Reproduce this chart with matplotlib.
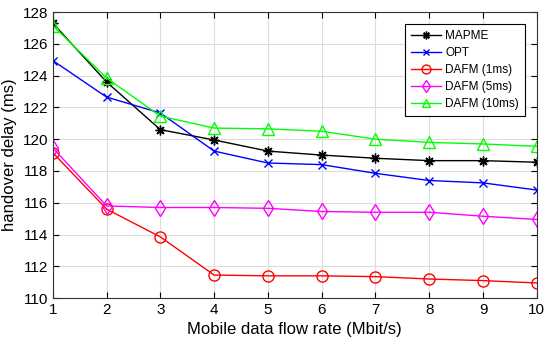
import matplotlib
matplotlib.use('Agg')
import matplotlib.pyplot as plt

plt.rcParams['font.family'] = ['Liberation Sans', 'DejaVu Sans']

rate = [1, 2, 3, 4, 5, 6, 7, 8, 9, 10]
mapme = [127.3, 123.6, 120.6, 119.95, 119.25, 119.0, 118.8, 118.65, 118.65, 118.55]
opt = [124.95, 122.65, 121.65, 119.25, 118.5, 118.4, 117.85, 117.4, 117.25, 116.8]
dafm_1 = [119.15, 115.6, 113.85, 111.45, 111.4, 111.4, 111.35, 111.2, 111.1, 110.95]
dafm_5 = [119.45, 115.8, 115.7, 115.7, 115.65, 115.45, 115.4, 115.4, 115.15, 114.95]
dafm_10 = [127.15, 123.85, 121.45, 120.7, 120.65, 120.5, 120.0, 119.8, 119.7, 119.55]

fig = plt.figure(figsize=(5.5, 3.45), dpi=100)
ax = fig.add_axes([0.096, 0.136, 0.88, 0.829])

# matlab-style asterisk = 8 arms
ax.plot(rate, mapme, color='black', marker=(8, 2, 0), markersize=7, lw=1, label='MAPME')
ax.plot(rate, opt, color='blue', marker='x', markersize=6, lw=1, label='OPT')
ax.plot(rate, dafm_1, color='red', marker='o', markersize=8, mfc='none', lw=1, label='DAFM (1ms)')
ax.plot(rate, dafm_5, color='magenta', marker='d', markersize=8, mfc='none', lw=1, label='DAFM (5ms)')
ax.plot(rate, dafm_10, color='#00ff00', marker='^', markersize=8, mfc='none', lw=1, label='DAFM (10ms)')

ax.set_xlim(1, 10)
ax.set_ylim(110, 128)
ax.set_xticks(range(1, 11))
ax.set_yticks(range(110, 129, 2))
ax.grid(True, color='#dddddd', lw=0.8)
ax.tick_params(direction='in', top=True, right=True, labelsize=11, length=4)
for s in ax.spines.values():
    s.set_color('#333333')

ax.set_xlabel('Mobile data flow rate (Mbit/s)', fontsize=12)
ax.set_ylabel('handover delay (ms)', fontsize=12)

leg = ax.legend(loc='upper right', fontsize=8.5, fancybox=False, framealpha=1,
                edgecolor='black', handlelength=2.6, handletextpad=0.35,
                labelspacing=0.42, borderpad=0.5, markerscale=0.8,
                bbox_to_anchor=(0.988, 0.978))
leg.get_frame().set_linewidth(0.8)

fig.savefig('out.png', dpi=100)
